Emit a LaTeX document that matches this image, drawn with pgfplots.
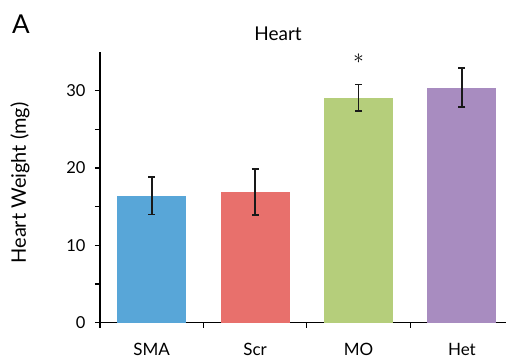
\documentclass[border=0pt]{standalone}
\usepackage{pgfplots}
\pgfplotsset{compat=1.18}
\usepackage{fontspec}
\setmainfont{Lato}
\definecolor{cSMA}{RGB}{88,166,216}
\definecolor{cScr}{RGB}{232,112,108}
\definecolor{cMO}{RGB}{181,206,123}
\definecolor{cHet}{RGB}{168,140,192}
\begin{document}
\begin{tikzpicture}[x=1pt,y=1pt]
\path[use as bounding box] (0,0) rectangle (506,362);
\begin{axis}[
  at={(100pt,39.3pt)}, anchor=south west,
  scale only axis, width=406pt, height=270.7pt,
  xmin=-0.5, xmax=3.426, ymin=0, ymax=35,
  axis x line*=bottom, axis y line*=left,
  axis line style={line width=1.3pt, -},
  tick align=outside,
  xtick={0,1,2,3}, xticklabels={SMA,Scr,MO,Het},
  minor xtick={-0.5,0.5,1.5,2.5},
  ytick={0,10,20,30}, minor ytick={5,15,25},
  major tick length=5pt, minor tick length=5pt,
  x tick style={draw=none},
  minor x tick style={draw=black, line width=1.3pt},
  every minor tick/.append style={minor tick length=6pt},
  y tick style={line width=1.3pt, black},
  ticklabel style={font=\fontsize{16.5}{18}\selectfont},
  /pgf/number format/assume math mode=true,
  yticklabel style={xshift=-6pt},
  xticklabel style={yshift=-12pt, font=\fontsize{17}{19}\selectfont},
  clip=false,
]
\addplot[ybar, bar width=0.668, bar shift=0pt, fill=cSMA, draw=none] coordinates {(0,16.4)};
\addplot[ybar, bar width=0.668, bar shift=0pt, fill=cScr, draw=none] coordinates {(1,16.9)};
\addplot[ybar, bar width=0.668, bar shift=0pt, fill=cMO, draw=none] coordinates {(2,29.1)};
\addplot[ybar, bar width=0.668, bar shift=0pt, fill=cHet, draw=none] coordinates {(3,30.4)};
\addplot[draw=none, mark=none,
  error bars/.cd, y dir=both, y explicit,
  error bar style={line width=1.6pt, black!90},
  error mark options={rotate=90, mark size=3.5pt, line width=1.6pt, black!90}]
  coordinates {(0,16.4) +- (0,2.4) (1,16.9) +- (0,3.0) (2,29.1) +- (0,1.7) (3,30.4) +- (0,2.5)};
\node[inner sep=0pt, font=\fontsize{20}{22}\selectfont] at (axis cs:2,34.1) {$\ast$};
\end{axis}
\node[anchor=base, font=\fontsize{19}{21}\selectfont] at (278,321) {Heart};
\node[anchor=base west, inner sep=0pt, font=\fontsize{26}{28}\selectfont] at (12,328) {A};
\node[rotate=90, font=\fontsize{20}{22}\selectfont] at (20,179) {Heart Weight (mg)};
\end{tikzpicture}
\end{document}
